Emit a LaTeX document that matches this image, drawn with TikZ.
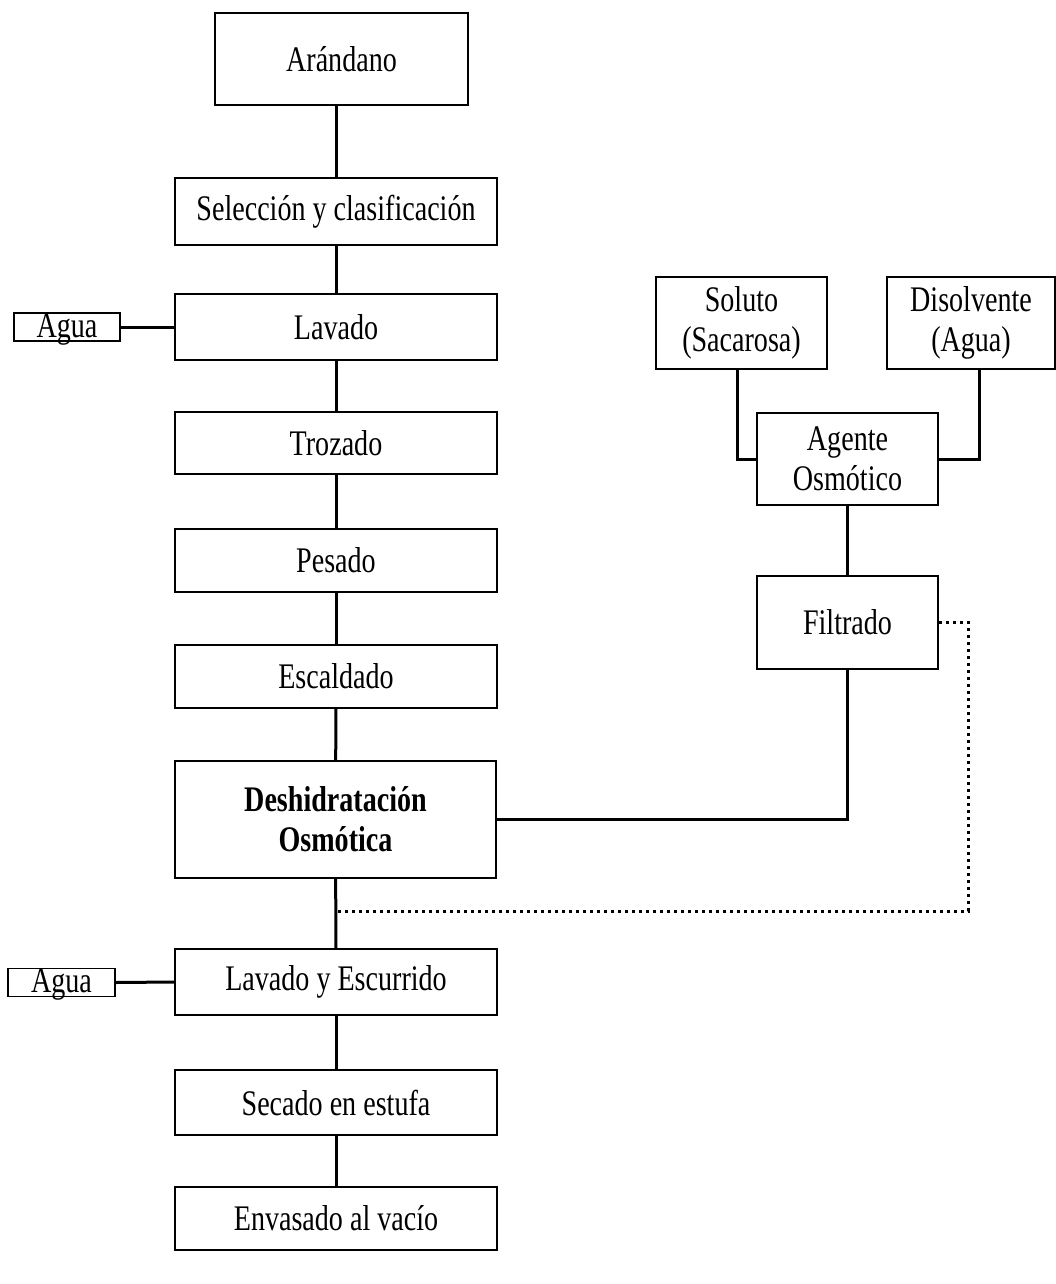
\documentclass[tikz,border=0pt]{standalone}
\usepackage{fontspec}
\setmainfont{Liberation Serif}[FakeStretch=0.78]
\begin{document}
\begin{tikzpicture}[x=1pt,y=-1pt,
  box/.style={draw,line width=1.6pt,inner sep=0pt,align=center,
    font=\fontsize{36}{40}\selectfont},
  agbox/.style={box,minimum width=106,minimum height=28,text height=24,text depth=4},
  conn/.style={line width=3pt},
  dotline/.style={line width=3pt,dash pattern=on 3pt off 4pt}]
\useasboundingbox (0,0) rectangle (1056,1284);
% main column
\node[box,minimum width=253,minimum height=92] (aran) at (341.5,59) {Arándano};
\node[box,minimum width=322,minimum height=67] (sel) at (336,211.5) {Selección y clasificación};
\node[box,minimum width=322,minimum height=66] (lav) at (336,327) {Lavado};
\node[box,minimum width=322,minimum height=62] (troz) at (336,443) {Trozado};
\node[box,minimum width=322,minimum height=63] (pes) at (336,560.5) {Pesado};
\node[box,minimum width=322,minimum height=63] (esc) at (336,676.5) {Escaldado};
\node[box,minimum width=321,minimum height=117,font=\fontsize{36}{40}\selectfont\bfseries] (desh) at (335.5,819.5) {Deshidratación\\Osmótica};
\node[box,minimum width=322,minimum height=66] (lavesc) at (336,982) {Lavado y Escurrido};
\node[box,minimum width=322,minimum height=65] (sec) at (336,1102.5) {Secado en estufa};
\node[box,minimum width=322,minimum height=63] (env) at (336,1218.5) {Envasado al vacío};
% water inputs
\node[agbox] (agua1) at (67,327) {Agua};
\node[agbox,minimum width=107] (agua2) at (61.5,982.5) {Agua};
% right branch
\node[box,minimum width=171,minimum height=92] (sol) at (741.5,323) {Soluto\\(Sacarosa)};
\node[box,minimum width=168,minimum height=92] (dis) at (971,323) {Disolvente\\(Agua)};
\node[box,minimum width=181,minimum height=92] (age) at (847.5,459) {Agente\\Osmótico};
\node[box,minimum width=181,minimum height=93] (fil) at (847.5,622.5) {Filtrado};
\coordinate (dcorner) at (968,911);
\coordinate (join) at (335,911);
% connectors
\draw[conn] (aran.south -| sel.north) -- (sel.north);
\draw[conn] (sel) -- (lav);
\draw[conn] (lav) -- (troz);
\draw[conn] (troz) -- (pes);
\draw[conn] (pes) -- (esc);
\draw[conn] (esc) -- (desh);
\draw[conn] (desh) -- (lavesc);
\draw[conn] (lavesc) -- (sec);
\draw[conn] (sec) -- (env);
\draw[conn] (agua1.east) -- (lav.west);
\draw[conn] (agua2.east) -- (lavesc.west);
\draw[conn] ([xshift=-4.5pt]sol.south) |- (age.west);
\draw[conn] ([xshift=8pt]dis.south) |- (age.east);
\draw[conn] (age.south) -- (fil.north);
\draw[conn] (fil.south) |- (desh.east);
\draw[dotline] (fil.east) -| (dcorner) -- (join);
\end{tikzpicture}
\end{document}
